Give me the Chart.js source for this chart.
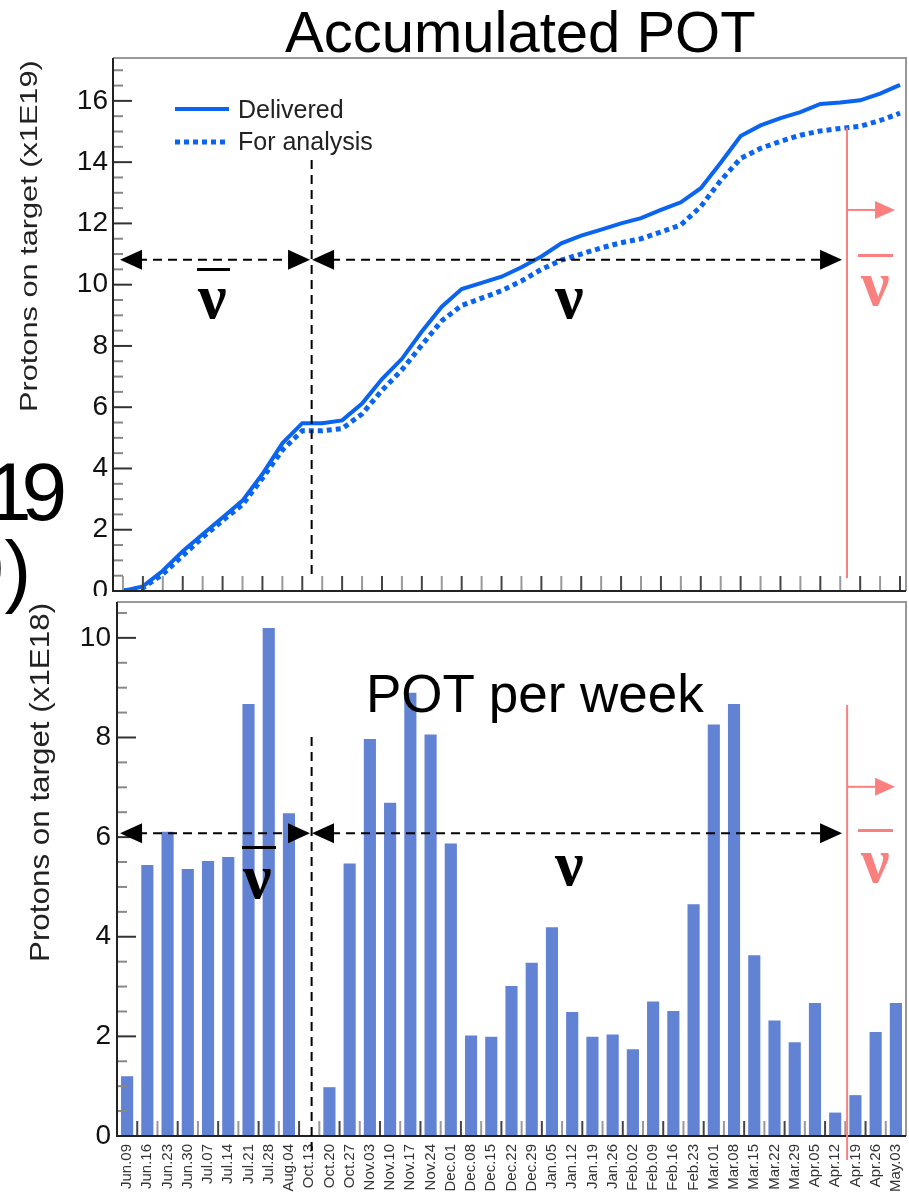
<!DOCTYPE html>
<html>
<head>
<meta charset="utf-8">
<title>Accumulated POT</title>
<script src="https://cdn.jsdelivr.net/npm/chart.js@4.4.1/dist/chart.umd.min.js"></script>
<style>
  html, body { margin: 0; padding: 0; background: #fff; width: 909px; height: 1199px; overflow: hidden; }
  body { position: relative; font-family: "Liberation Sans", Arial, sans-serif; }
  #topBox { position: absolute; left: 0; top: 0; width: 909px; height: 640px; z-index: 1; }
  #botBox { position: absolute; left: 0; top: 560px; width: 940px; height: 639px; z-index: 2; }
  #mask { position: absolute; left: 60px; top: 596px; width: 56px; height: 12px; background: #fff; z-index: 3; }
  .t { position: absolute; white-space: nowrap; line-height: 1; color: #000; z-index: 3; }
  .ytitle { position: absolute; white-space: nowrap; line-height: 1; color: #222; transform-origin: 0 0; z-index: 3; }
  .nu { position: absolute; font-family: "Liberation Serif", "DejaVu Serif", serif; font-weight: bold; font-size: 64px; line-height: 1; z-index: 3; }
  .ob { position: absolute; height: 3px; z-index: 3; }
</style>
</head>
<body>

<div id="topBox"><canvas id="potTop"></canvas></div>
<div id="botBox"><canvas id="potBottom"></canvas></div>
<div id="mask"></div>

<!-- slide text behind the plots -->
<div class="t" style="left:-14px;top:451px;font-size:82px;letter-spacing:-10px;z-index:0">19</div>
<div class="t" style="left:-40px;top:530px;font-size:80px;z-index:0">9)</div>

<div class="t" style="left:285px;top:3px;font-size:58px">Accumulated POT</div>
<div class="t" style="left:366px;top:667px;font-size:53px">POT per week</div>

<div class="t" style="left:238px;top:97px;font-size:25px;color:#222">Delivered</div>
<div class="t" style="left:238px;top:129px;font-size:25px;color:#222">For analysis</div>

<div class="ytitle" style="left:17px;top:412px;font-size:24px;transform:rotate(-90deg) scaleX(1.28)">Protons on target (x1E19)</div>
<div class="ytitle" style="left:26px;top:962px;font-size:28px;transform:rotate(-90deg) scaleX(1.12)">Protons on target (x1E18)</div>

<div class="ob" style="left:197px;top:268px;width:33px;background:#000"></div>
<div class="nu" style="left:198px;top:265px;color:#000">ν</div>
<div class="nu" style="left:555px;top:265px;color:#000">ν</div>
<div class="ob" style="left:858px;top:254px;width:35px;background:#fa8080"></div>
<div class="nu" style="left:861px;top:252px;color:#fa8080">ν</div>

<div class="ob" style="left:242px;top:846px;width:34px;background:#000"></div>
<div class="nu" style="left:243px;top:845px;color:#000">ν</div>
<div class="nu" style="left:555px;top:832px;color:#000">ν</div>
<div class="ob" style="left:858px;top:829px;width:35px;background:#fa8080"></div>
<div class="nu" style="left:861px;top:829px;color:#fa8080">ν</div>

<script>
// weekly bins (Jun 2013 - May 2014)
var weeks = ["Jun.09", "Jun.16", "Jun.23", "Jun.30", "Jul.07", "Jul.14", "Jul.21", "Jul.28", "Aug.04",
  "Oct.13", "Oct.20", "Oct.27", "Nov.03", "Nov.10", "Nov.17", "Nov.24", "Dec.01", "Dec.08", "Dec.15",
  "Dec.22", "Dec.29", "Jan.05", "Jan.12", "Jan.19", "Jan.26", "Feb.02", "Feb.09", "Feb.16", "Feb.23",
  "Mar.01", "Mar.08", "Mar.15", "Mar.22", "Mar.29", "Apr.05", "Apr.12", "Apr.19", "Apr.26", "May.03"];

// POT per week, x1E18
var potPerWeek = [1.20, 5.44, 6.11, 5.36, 5.52, 5.60, 8.67, 10.20, 6.48,
  0, 0.98, 5.47, 7.97, 6.69, 8.90, 8.06, 5.87, 2.02, 1.99,
  3.01, 3.48, 4.19, 2.49, 1.99, 2.04, 1.74, 2.70, 2.51, 4.65,
  8.26, 8.67, 3.63, 2.32, 1.88, 2.67, 0.47, 0.82, 2.09, 2.67];

// accumulated POT at the week edges, x1E19
var delivered = [0, 0.15, 0.66, 1.30, 1.85, 2.40, 2.95, 3.82, 4.82, 5.48,
  5.48, 5.57, 6.12, 6.92, 7.58, 8.47, 9.28, 9.86, 10.06, 10.26,
  10.57, 10.92, 11.35, 11.60, 11.80, 12.00, 12.17, 12.44, 12.69, 13.15,
  13.98, 14.85, 15.20, 15.44, 15.63, 15.90, 15.95, 16.02, 16.24, 16.52];
var forAnalysis = [0, 0.10, 0.55, 1.15, 1.75, 2.30, 2.82, 3.68, 4.60, 5.23,
  5.23, 5.30, 5.78, 6.55, 7.22, 8.03, 8.82, 9.32, 9.56, 9.80,
  10.12, 10.50, 10.80, 11.00, 11.20, 11.37, 11.50, 11.72, 11.95, 12.55,
  13.40, 14.12, 14.45, 14.68, 14.88, 15.02, 15.10, 15.17, 15.36, 15.60];

var yTicksTop = [0, 2, 4, 6, 8, 10, 12, 14, 16];
var yTicksBottom = [0, 2, 4, 6, 8, 10];

var FONT = '"Liberation Sans", Arial, sans-serif';
var BLUE = '#0a64f0';
var RED = '#fa8080';

function dashed(ctx, x1, y1, x2, y2, color) {
  ctx.save();
  ctx.strokeStyle = color;
  ctx.lineWidth = 2;
  ctx.setLineDash([9, 6]);
  ctx.beginPath(); ctx.moveTo(x1, y1); ctx.lineTo(x2, y2); ctx.stroke();
  ctx.restore();
}
function head(ctx, x, y, dir, len, half, color) {
  ctx.fillStyle = color;
  ctx.beginPath();
  ctx.moveTo(x, y);
  ctx.lineTo(x - dir * len, y - half);
  ctx.lineTo(x - dir * len, y + half);
  ctx.closePath();
  ctx.fill();
}

// frame, inner ticks, and the run-period arrows
var deco = {
  id: 'deco',
  afterDraw: function(chart, args, o) {
    var ctx = chart.ctx, a = chart.chartArea;
    var xs = chart.scales.x, ys = chart.scales.y;
    ctx.save();

    // y ticks inside the frame
    for (var v = 0; v <= ys.max + 1e-9; v += 0.5) {
      var py = ys.getPixelForValue(v);
      var major = Math.abs(v / 2 - Math.round(v / 2)) < 1e-6;
      ctx.strokeStyle = major ? '#333' : '#888';
      ctx.lineWidth = 2;
      ctx.beginPath(); ctx.moveTo(a.left, py); ctx.lineTo(a.left + (major ? 19 : 10), py); ctx.stroke();
    }
    // x ticks inside the frame
    o.xTicks.forEach(function(t, i) {
      var px = xs.getPixelForValue(t);
      ctx.strokeStyle = i % 2 ? '#444' : '#999';
      ctx.lineWidth = 2;
      ctx.beginPath(); ctx.moveTo(px, a.bottom); ctx.lineTo(px, a.bottom - 15); ctx.stroke();
    });

    // frame
    ctx.strokeStyle = '#999';
    ctx.lineWidth = 2;
    ctx.beginPath(); ctx.moveTo(a.left, a.top); ctx.lineTo(a.right, a.top); ctx.lineTo(a.right, a.bottom); ctx.stroke();
    ctx.strokeStyle = '#222';
    ctx.beginPath(); ctx.moveTo(a.left, a.top); ctx.lineTo(a.left, a.bottom); ctx.lineTo(a.right, a.bottom); ctx.stroke();

    // split between anti-neutrino and neutrino running
    var s = o.split;
    var yArr = ys.getPixelForValue(s.arrowY);
    var xL = xs.getPixelForValue(s.left), xM = xs.getPixelForValue(s.mid), xR = xs.getPixelForValue(s.right);
    dashed(ctx, xs.getPixelForValue(s.vx), ys.getPixelForValue(s.vTop), xs.getPixelForValue(s.vx), ys.getPixelForValue(s.vBottom), '#000');
    dashed(ctx, xL + 18, yArr, xM - 18, yArr, '#000');
    dashed(ctx, xM + 20, yArr, xR - 18, yArr, '#000');
    head(ctx, xL, yArr, -1, 22, 10, '#000');
    head(ctx, xM - 1, yArr, 1, 22, 10, '#000');
    head(ctx, xM + 1, yArr, -1, 22, 10, '#000');
    head(ctx, xR, yArr, 1, 22, 10, '#000');

    // start of the second anti-neutrino run
    var r = o.red;
    var xr = xs.getPixelForValue(r.x);
    ctx.strokeStyle = RED;
    ctx.lineWidth = 2;
    ctx.beginPath(); ctx.moveTo(xr, ys.getPixelForValue(r.top)); ctx.lineTo(xr, ys.getPixelForValue(r.bottom)); ctx.stroke();
    var yra = ys.getPixelForValue(r.arrowY), xTip = xs.getPixelForValue(r.tip);
    ctx.beginPath(); ctx.moveTo(xr, yra); ctx.lineTo(xTip - 18, yra); ctx.stroke();
    head(ctx, xTip, yra, 1, 20, 9, RED);

    // legend samples
    if (o.legend) {
      ctx.strokeStyle = BLUE;
      ctx.lineWidth = 4;
      ctx.beginPath(); ctx.moveTo(175, 109); ctx.lineTo(229, 109); ctx.stroke();
      ctx.lineWidth = 5;
      ctx.setLineDash([5, 4]);
      ctx.beginPath(); ctx.moveTo(175, 142); ctx.lineTo(229, 142); ctx.stroke();
    }
    ctx.restore();
  }
};

var yTickFont = { family: FONT, size: 28 };

new Chart(document.getElementById('potTop'), {
  type: 'line',
  data: {
    datasets: [
      {
        label: 'Delivered',
        data: delivered.map(function(v, i) { return { x: i, y: v }; }),
        borderColor: BLUE,
        borderWidth: 4,
        pointRadius: 0,
        tension: 0,
        fill: false
      },
      {
        label: 'For analysis',
        data: forAnalysis.map(function(v, i) { return { x: i, y: v }; }),
        borderColor: BLUE,
        borderWidth: 5,
        borderDash: [5, 4],
        pointRadius: 0,
        tension: 0,
        fill: false
      }
    ]
  },
  options: {
    responsive: true,
    maintainAspectRatio: false,
    animation: false,
    devicePixelRatio: 1,
    layout: { padding: { top: 58, right: 3, bottom: 49, left: 0 } },
    plugins: {
      legend: { display: false },
      tooltip: { enabled: false },
      deco: {
        xTicks: delivered.map(function(v, i) { return i; }),
        legend: true,
        split: { left: -0.15, mid: 9.44, right: 36.09, arrowY: 10.81, vx: 9.47, vTop: 14.07, vBottom: 0.52 },
        red: { x: 36.34, top: 15.12, bottom: 0.42, arrowY: 12.44, tip: 38.75 }
      }
    },
    scales: {
      x: { type: 'linear', min: -0.5, max: 39.3, display: false },
      y: {
        min: 0, max: 17.4,
        afterFit: function(s) { s.width = 113; },
        afterBuildTicks: function(s) { s.ticks = yTicksTop.map(function(v) { return { value: v }; }); },
        grid: { display: false, drawTicks: false },
        border: { display: false },
        ticks: { font: yTickFont, color: '#111', padding: 5 }
      }
    }
  },
  plugins: [deco]
});

new Chart(document.getElementById('potBottom'), {
  type: 'bar',
  data: {
    labels: weeks,
    datasets: [{
      label: 'POT per week',
      data: potPerWeek,
      backgroundColor: '#6282d4',
      barPercentage: 0.6,
      categoryPercentage: 1
    }]
  },
  options: {
    responsive: true,
    maintainAspectRatio: false,
    animation: false,
    devicePixelRatio: 1,
    layout: { padding: { top: 42, right: 34, bottom: 0, left: 0 } },
    plugins: {
      legend: { display: false },
      tooltip: { enabled: false },
      deco: {
        xTicks: weeks.concat(['']).map(function(w, i) { return i - 0.5; }),
        legend: false,
        split: { left: -0.35, mid: 9.09, right: 35.34, arrowY: 6.08, vx: 9.12, vTop: 8.01, vBottom: -0.35 },
        red: { x: 35.59, top: 8.65, bottom: -0.48, arrowY: 7.01, tip: 37.96 }
      }
    },
    scales: {
      x: {
        offset: true,
        grid: { display: false, drawTicks: false },
        border: { display: false },
        ticks: { autoSkip: false, minRotation: 90, maxRotation: 90, font: { family: FONT, size: 15 }, color: '#333', padding: 8 },
        afterFit: function(s) { s.height = 63; }
      },
      y: {
        min: 0, max: 10.72,
        afterFit: function(s) { s.width = 117; },
        afterBuildTicks: function(s) { s.ticks = yTicksBottom.map(function(v) { return { value: v }; }); },
        grid: { display: false, drawTicks: false },
        border: { display: false },
        ticks: { font: yTickFont, color: '#111', padding: 6 }
      }
    }
  },
  plugins: [deco]
});
</script>
</body>
</html>
